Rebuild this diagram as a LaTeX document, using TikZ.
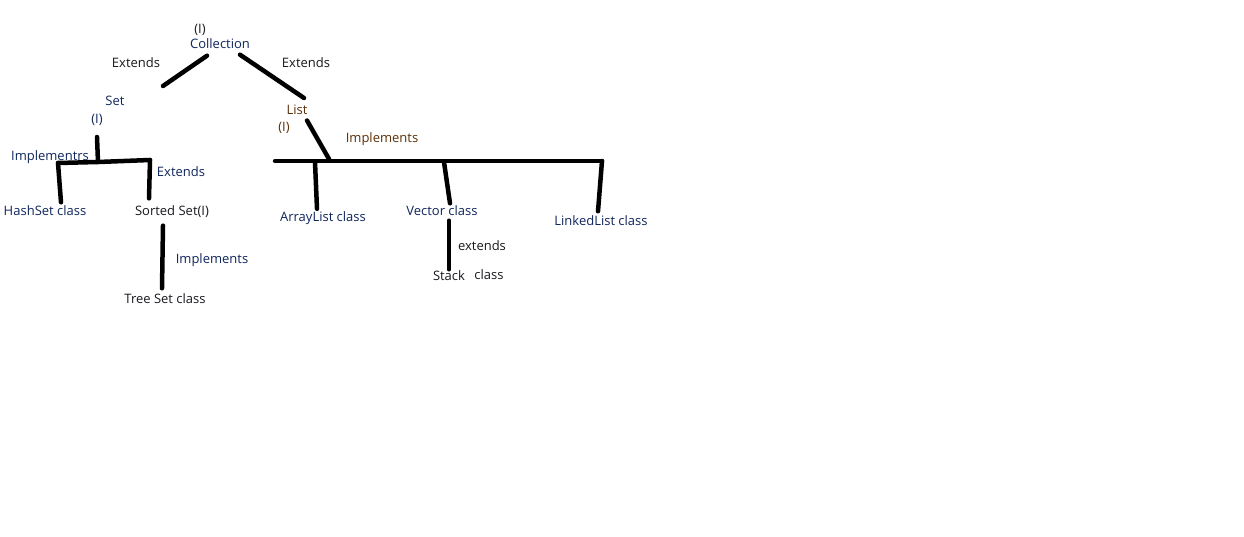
\documentclass[tikz,border=0pt]{standalone}
\usepackage{fontspec}
\setmainfont{Open Sans}
\usetikzlibrary{positioning, calc}
\definecolor{inkblue}{RGB}{16, 38, 92}
\definecolor{inkbrown}{RGB}{92, 48, 8}
\definecolor{inkdark}{RGB}{25, 25, 30}

\begin{document}
\begin{tikzpicture}[x=1pt, y=-1pt, font=\fontsize{13}{15}\selectfont,
    lbl/.style={inner sep=0.5pt, text=inkdark},
    bluelbl/.style={lbl, text=inkblue},
    brownlbl/.style={lbl, text=inkbrown},
    stroke/.style={line width=4.5pt, line cap=round}]
    \useasboundingbox[fill=white] (0,0) rectangle (1244,537);

    % Collection (I)
    \node[lbl] (topI) at (200,30) {(I)};
    \node[bluelbl] (collection) at (220,44) {Collection};
    \node[lbl] (extSet) at (136,63) {Extends};
    \node[lbl] (extList) at (306,63) {Extends};

    % Set branch
    \node[bluelbl] (set) at (115,101) {Set};
    \node[bluelbl] (setI) at (97,120) {(I)};
    \node[bluelbl] (implSet) at (50,157) {Implementrs};
    \node[bluelbl] (hashset) at (45,211) {HashSet class};
    \node[bluelbl] (extSorted) at (181,172) {Extends};
    \node[lbl] (sorted) at (172,212) {Sorted Set(I)};
    \node[bluelbl] (implTree) at (212,260) {Implements};
    \node[lbl] (treeset) at (165,299) {Tree Set class};

    % List branch
    \node[brownlbl] (list) at (297,110) {List};
    \node[brownlbl] (listI) at (284,128) {(I)};
    \node[brownlbl] (implList) at (382,139) {Implements};
    \node[bluelbl] (arraylist) at (323,218) {ArrayList class};
    \node[bluelbl] (vector) at (442,211) {Vector class};
    \node[bluelbl] (linkedlist) at (601,221) {LinkedList class};
    \node[lbl] (extStack) at (482,246) {extends};
    \node[lbl] (stack) at (449,276) {Stack};
    \node[lbl] (stackcls) at (489,275) {class};

    % junction points of the strokes
    \coordinate (setEnd) at (163,86);
    \coordinate (listEnd) at (304,98);
    \coordinate (setStem) at (97,137);
    \coordinate (setJoin) at (98,162);
    \coordinate (setBarL) at (58,163);
    \coordinate (setBarR) at (150,160);
    \coordinate (listJoin) at (329,159);
    \coordinate (listBarL) at (275,161);
    \coordinate (listBarR) at (602,161);
    \coordinate (arrayTop) at (315,162);
    \coordinate (vectorTop) at (444,162);

    % Collection to Set and List
    \draw[stroke] ([shift={(-13,6)}]collection.south) -- (setEnd);
    \draw[stroke] ([shift={(20,5)}]collection.south) -- (listEnd);

    % Set side
    \draw[stroke] (setStem) -- (setJoin);
    \draw[stroke] (setBarL) -- (setJoin) -- (setBarR);
    \draw[stroke] (setBarL) -- ([shift={(16,-3)}]hashset.north);
    \draw[stroke] (setBarR) -- ([shift={(-23,-7)}]sorted.north);
    \draw[stroke] ([shift={(-9,7)}]sorted.south) -- ([shift={(-3,-5)}]treeset.north);

    % List side
    \draw[stroke] ([shift={(10,5)}]list.south) -- (listJoin);
    \draw[stroke] (listBarL) -- (listBarR);
    \draw[stroke] (arrayTop) -- ([shift={(-6,-2)}]arraylist.north);
    \draw[stroke] (vectorTop) -- ([shift={(8,-2)}]vector.north);
    \draw[stroke] (listBarR) -- ([shift={(-3,-4)}]linkedlist.north);
    \draw[stroke] ([shift={(7,4)}]vector.south) -- ([shift={(0,-1)}]stack.north);
\end{tikzpicture}
\end{document}
